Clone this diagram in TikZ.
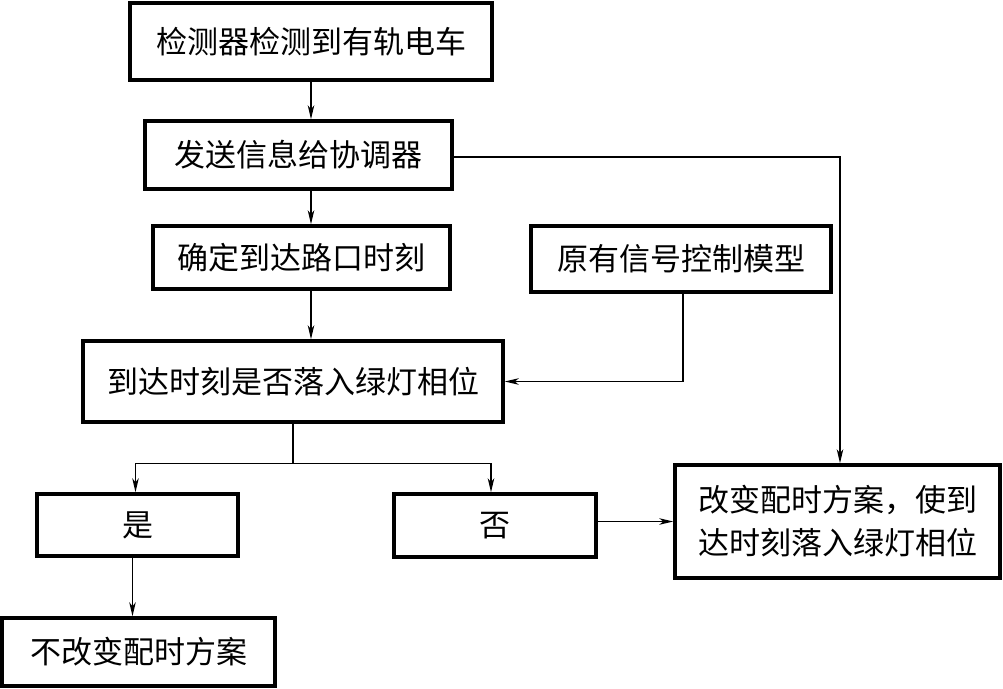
\documentclass[tikz,border=0pt]{standalone}
\usepackage{fontspec}
\setmainfont{Noto Sans CJK SC}
\usetikzlibrary{arrows.meta}
\tikzset{
  box/.style={draw, line width=3.5pt, inner sep=0pt, align=center, font=\fontsize{31}{43}\selectfont},
  conn/.style={line width=1.3pt},
  arr/.style={conn, -{Stealth[length=14pt,width=6.5pt,inset=4pt]}}
}
\begin{document}
\begin{tikzpicture}[x=1pt,y=-1pt]
\useasboundingbox (0,0) rectangle (1003,688);
\node[box, minimum width=362pt, minimum height=77pt] (b1) at (311,41.5) {检测器检测到有轨电车};
\node[box, minimum width=307pt, minimum height=68pt] (b2) at (298.5,155) {发送信息给协调器};
\node[box, minimum width=297pt, minimum height=63pt] (b3) at (301.5,257.5) {确定到达路口时刻};
\node[box, minimum width=300pt, minimum height=66pt] (b4) at (681,259) {原有信号控制模型};
\node[box, minimum width=420pt, minimum height=81pt] (b5) at (293,381.5) {到达时刻是否落入绿灯相位};
\node[box, minimum width=201pt, minimum height=62pt] (yes) at (137.5,525) {是};
\node[box, minimum width=202pt, minimum height=63pt] (no) at (495,525.5) {否};
\node[box, minimum width=325pt, minimum height=113pt] (chg) at (837.5,521.5) {改变配时方案，使到\\达时刻落入绿灯相位};
\node[box, minimum width=273pt, minimum height=68pt] (keep) at (138.5,652) {不改变配时方案};
\coordinate (col) at (311,0);
\draw[arr] (col |- b1.south) -- (col |- b2.north);
\draw[arr] (col |- b2.south) -- (col |- b3.north);
\draw[arr] (col |- b3.south) -- (col |- b5.north);
\draw[arr] ([yshift=-2pt]b2.east) -| ([xshift=2.5pt]chg.north);
\draw[arr] ([xshift=2pt]b4.south) |- (b5.east);
\draw[conn] (b5.south) -- ++(0,40) coordinate (split);
\draw[arr] (split) -| ([xshift=-2pt]yes.north);
\draw[arr] (split) -| ([xshift=-4pt]no.north);
\draw[arr] ([xshift=-5pt]yes.south) -- ([xshift=-5pt]yes.south |- keep.north);
\draw[arr] ([yshift=4pt]no.east) -- ([yshift=4pt]no.east -| chg.west);
\end{tikzpicture}
\end{document}
